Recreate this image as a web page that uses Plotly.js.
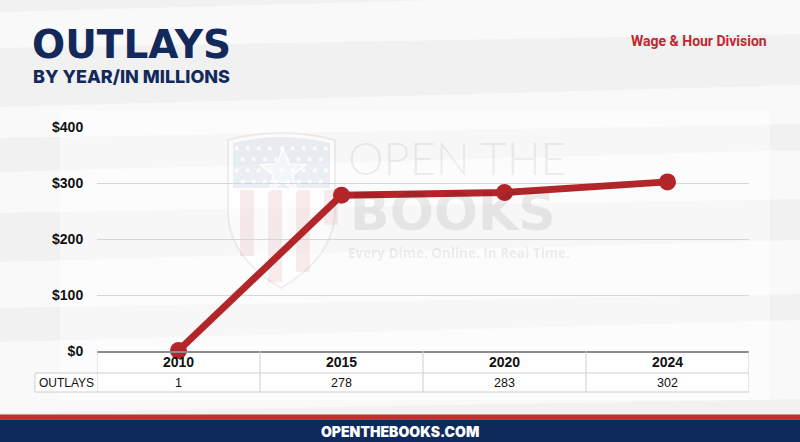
<!DOCTYPE html>
<html>
<head>
<meta charset="utf-8">
<script src="https://cdn.plot.ly/plotly-3.0.1.min.js"></script>
<style>
html,body{margin:0;padding:0;background:#f3f3f3;}
#chart{width:800px;height:442px;}
</style>
</head>
<body>
<div id="chart"></div>
<script>
// ---- data ----
var years = ['2010', '2015', '2020', '2024'];
var outlays = [1, 278, 283, 302];
var outlayLabels = ['1', '278', '283', '302'];
var rowLabel = 'OUTLAYS';
var yTicks = [0, 100, 200, 300, 400];
var yTickText = ['$0', '$100', '$200', '$300', '$400'];
var titleMain = 'OUTLAYS';
var titleSub = 'BY YEAR/IN MILLIONS';
var agency = 'Wage &amp; Hour Division';
var footerText = 'OPENTHEBOOKS.COM';

// ---- geometry helpers (pixel -> paper) ----
var L = 97, R = 749, T = 127, B = 351;
function xp(px){ return (px - L) / (R - L); }
function yp(py){ return (B - py) / (B - T); }
function P(px, py){ return xp(px).toFixed(5) + ',' + yp(py).toFixed(5); }

var NAVY = '#13295b';
var RED = '#b2262a';
var GRID = '#d6d6d6';
var CELL = '#cfcfcf';
var body = 'Liberation Sans, Arial, sans-serif';

var shapes = [];
var annotations = [];

// background streaks
var streaks = [
  {y0: 0, y1: 40, c: 'rgba(255,255,255,0.55)'},
  {y0: 95, y1: 130, c: 'rgba(255,255,255,0.6)'},
  {y0: 160, y1: 205, c: 'rgba(255,255,255,0.55)'},
  {y0: 250, y1: 300, c: 'rgba(255,255,255,0.6)'},
  {y0: 330, y1: 405, c: 'rgba(255,255,255,0.55)'}
];
streaks.forEach(function(s){
  shapes.push({type:'path', xref:'paper', yref:'paper', layer:'below', line:{width:0}, fillcolor:s.c,
    path:'M ' + P(0, s.y0 + 12) + ' L ' + P(800, s.y0 - 10) + ' L ' + P(800, s.y1 - 6) + ' L ' + P(0, s.y1 + 8) + ' Z'});
});
shapes.push({type:'rect', xref:'paper', yref:'paper', layer:'below', line:{width:0}, fillcolor:'rgba(255,255,255,0.45)',
  x0:xp(60), x1:xp(770), y0:yp(400), y1:yp(110)});

// ---- watermark shield ----
shapes.push({type:'path', xref:'paper', yref:'paper', layer:'below',
  line:{color:'rgba(0,0,0,0.06)', width:2}, fillcolor:'rgba(255,255,255,0.5)',
  path:'M ' + P(228,140) + ' Q ' + P(281,126) + ' ' + P(335,140) + ' L ' + P(335,212) +
       ' Q ' + P(333,258) + ' ' + P(281,288) + ' Q ' + P(229,258) + ' ' + P(228,212) + ' Z'});
shapes.push({type:'path', xref:'paper', yref:'paper', layer:'below', line:{width:0}, fillcolor:'rgba(150,165,200,0.18)',
  path:'M ' + P(233,143) + ' Q ' + P(281,131) + ' ' + P(330,143) + ' L ' + P(330,188) + ' L ' + P(233,188) + ' Z'});
for (var sx = 240; sx < 330; sx += 28) {
  var mid = sx + 7;
  var bot = 283 - 68 * Math.pow((mid - 281) / 54, 2);
  shapes.push({type:'rect', xref:'paper', yref:'paper', layer:'below', line:{width:0}, fillcolor:'rgba(215,120,120,0.14)',
    x0:xp(sx), x1:xp(sx + 14), y0:yp(bot), y1:yp(190)});
}
(function(){
  var cx = 283, cy = 172, ro = 24, ri = 10, pts = [];
  for (var i = 0; i < 10; i++) {
    var r = i % 2 ? ri : ro;
    var a = -Math.PI / 2 + i * Math.PI / 5;
    pts.push(P(cx + r * Math.cos(a), cy + r * Math.sin(a)));
  }
  shapes.push({type:'path', xref:'paper', yref:'paper', layer:'below',
    line:{color:'rgba(255,255,255,0.9)', width:1.5}, fillcolor:'rgba(255,255,255,0.45)',
    path:'M ' + pts.join(' L ') + ' Z'});
})();
var starRows = [147, 158, 169, 180];
starRows.forEach(function(sy, i){
  annotations.push({xref:'paper', yref:'paper', x:xp(281), y:yp(sy), xanchor:'center', yanchor:'middle', showarrow:false,
    text: i % 2 ? '★  ★  ★  ★  ★  ★  ★  ★' : '★  ★  ★  ★  ★  ★  ★  ★  ★',
    font:{size:8, color:'rgba(255,255,255,0.95)'}});
});

annotations.push({xref:'paper', yref:'paper', x:xp(457), y:yp(158), xanchor:'center', yanchor:'middle', showarrow:false,
  text:'OPEN THE', font:{family:'Lato, Open Sans, sans-serif', size:45, weight:300, color:'rgba(0,0,0,0.08)'}});
annotations.push({xref:'paper', yref:'paper', x:xp(453), y:yp(212), xanchor:'center', yanchor:'middle', showarrow:false,
  text:'BOOKS', font:{family:'DejaVu Sans, sans-serif', size:52, weight:700, color:'rgba(0,0,0,0.075)'}});
annotations.push({xref:'paper', yref:'paper', x:xp(459), y:yp(253), xanchor:'center', yanchor:'middle', showarrow:false,
  text:'Every Dime. Online. In Real Time.', font:{family:'Open Sans, sans-serif', size:13.5, weight:700, color:'rgba(0,0,0,0.085)'}});

// ---- table ----
var cellFill = 'rgba(255,255,255,0.75)';
shapes.push({type:'rect', xref:'paper', yref:'paper', layer:'below', line:{width:0}, fillcolor:cellFill,
  x0:0, x1:1, y0:yp(392), y1:0});
shapes.push({type:'rect', xref:'paper', yref:'paper', layer:'below', line:{width:0}, fillcolor:cellFill,
  x0:xp(35), x1:0, y0:yp(392), y1:yp(373)});
shapes.push({type:'line', xref:'paper', yref:'paper', line:{color:CELL, width:1}, x0:xp(35), x1:1, y0:yp(373), y1:yp(373)});
shapes.push({type:'line', xref:'paper', yref:'paper', line:{color:CELL, width:1}, x0:xp(35), x1:1, y0:yp(392), y1:yp(392)});
shapes.push({type:'line', xref:'paper', yref:'paper', line:{color:CELL, width:1}, x0:xp(35), x1:xp(35), y0:yp(392), y1:yp(373)});
for (var k = 0; k <= years.length; k++) {
  shapes.push({type:'line', xref:'x', yref:'paper', line:{color:CELL, width:1},
    x0:k - 0.5, x1:k - 0.5, y0:yp(392), y1:0});
}
years.forEach(function(yr, i){
  annotations.push({xref:'x', yref:'paper', x:i, y:yp(362), xanchor:'center', yanchor:'middle', showarrow:false,
    text:yr, font:{family:body, size:14, weight:700, color:'#111'}});
  annotations.push({xref:'x', yref:'paper', x:i, y:yp(382.5), xanchor:'center', yanchor:'middle', showarrow:false,
    text:outlayLabels[i], font:{family:body, size:12.5, color:'#111'}});
});
annotations.push({xref:'paper', yref:'paper', x:xp(66), y:yp(382.5), xanchor:'center', yanchor:'middle', showarrow:false,
  text:rowLabel, font:{family:body, size:12, color:'#111'}});

// ---- titles ----
annotations.push({xref:'paper', yref:'paper', x:xp(30), y:yp(44), xanchor:'left', yanchor:'middle', showarrow:false,
  text:titleMain, font:{family:'DejaVu Sans, sans-serif', size:39, weight:700, color:NAVY}});
annotations.push({xref:'paper', yref:'paper', x:xp(31), y:yp(76), xanchor:'left', yanchor:'middle', showarrow:false,
  text:titleSub, font:{family:'Inter, DejaVu Sans, sans-serif', size:18, weight:800, color:NAVY}});
annotations.push({xref:'paper', yref:'paper', x:xp(769), y:yp(41), xanchor:'right', yanchor:'middle', showarrow:false,
  text:agency, font:{family:'Roboto, Liberation Sans, sans-serif', size:14, weight:700, color:'#c0282d'}});

// ---- footer ----
shapes.push({type:'rect', xref:'paper', yref:'paper', line:{width:0}, fillcolor:'#c23028',
  x0:xp(-5), x1:xp(805), y0:yp(419.5), y1:yp(414.5)});
shapes.push({type:'rect', xref:'paper', yref:'paper', line:{width:0}, fillcolor:'#0e2a5c',
  x0:xp(-5), x1:xp(805), y0:yp(447), y1:yp(419.5)});
annotations.push({xref:'paper', yref:'paper', x:xp(400), y:yp(431), xanchor:'center', yanchor:'middle', showarrow:false,
  text:footerText, font:{family:'Inter, DejaVu Sans, sans-serif', size:14, weight:900, color:'#ffffff'}});

var trace = {
  type:'scatter', mode:'lines+markers',
  x: years, y: outlays,
  line:{color:RED, width:7},
  marker:{color:RED, size:17},
  cliponaxis:false,
  hoverinfo:'skip'
};

var layout = {
  width:800, height:442,
  margin:{l:L, r:800 - R, t:T, b:442 - B, pad:0},
  paper_bgcolor:'#f1f1f1',
  plot_bgcolor:'rgba(0,0,0,0)',
  showlegend:false,
  xaxis:{
    type:'category', range:[-0.5, 3.5], fixedrange:true,
    showgrid:false, zeroline:false,
    showline:true, linecolor:'#8c8c8c', linewidth:2,
    ticks:'', showticklabels:false
  },
  yaxis:{
    range:[0, 400], fixedrange:true,
    tickvals:yTicks, ticktext:yTickText,
    showgrid:true, gridcolor:GRID, gridwidth:1,
    zeroline:false, showline:false,
    ticks:'outside', ticklen:10, tickcolor:'rgba(0,0,0,0)',
    tickfont:{family:body, size:14, weight:700, color:'#111'}
  },
  shapes:shapes,
  annotations:annotations
};

Plotly.newPlot('chart', [trace], layout, {displayModeBar:false, staticPlot:true});
</script>
</body>
</html>
